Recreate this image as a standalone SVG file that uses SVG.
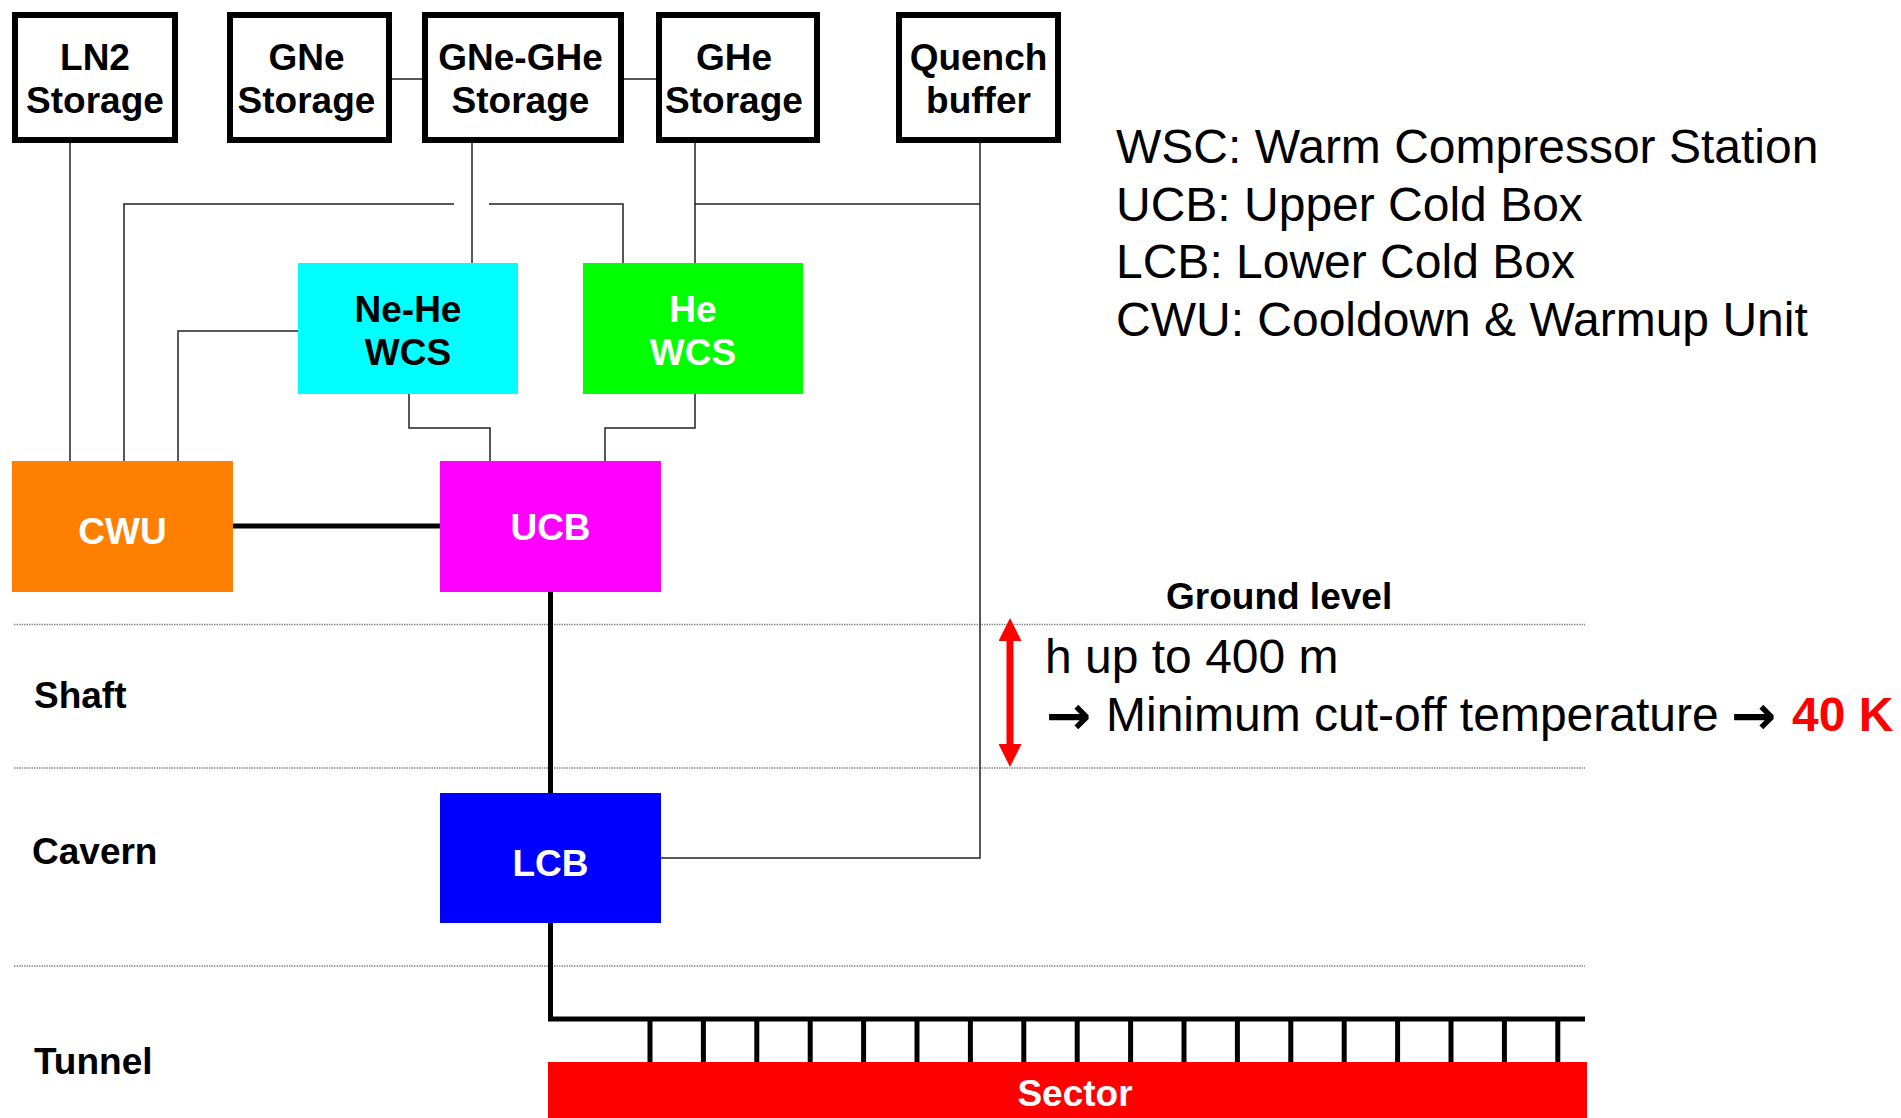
<svg xmlns="http://www.w3.org/2000/svg" width="1901" height="1118" viewBox="0 0 1901 1118">
<defs>
<style>
.store{fill:#fff;stroke:#000;stroke-width:6}
.bl{font-family:"Liberation Sans",Arial,sans-serif;font-weight:bold;font-size:37px;text-anchor:middle}
.lab{font-family:"Liberation Sans",Arial,sans-serif;font-weight:bold;font-size:37px}
.reg{font-family:"Liberation Sans",Arial,sans-serif;font-size:48px}
.arr{font-family:"DejaVu Sans",sans-serif;font-weight:bold;font-size:54px}
.thin{fill:none;stroke:#222;stroke-width:1.5}
.thick{fill:none;stroke:#000;stroke-width:5}
.lvl{fill:none;stroke:#888;stroke-width:1.5;stroke-dasharray:1.5 1}
.w{fill:#fff}
</style>
<marker id="rh" viewBox="0 0 23 23" refX="1" refY="11.5" markerUnits="userSpaceOnUse" markerWidth="23" markerHeight="23" orient="auto-start-reverse">
<path d="M0,0 L23,11.5 L0,23 Z" fill="#f00"/>
</marker>
</defs>
<rect width="1901" height="1118" fill="#fff"/>

<g id="levels">
<line class="lvl" x1="14" y1="624.5" x2="1585" y2="624.5"/>
<line class="lvl" x1="14" y1="768" x2="1585" y2="768"/>
<line class="lvl" x1="14" y1="966" x2="1585" y2="966"/>
<text class="lab" x="1166" y="609">Ground level</text>
<text class="lab" x="34" y="708">Shaft</text>
<text class="lab" x="32" y="864">Cavern</text>
<text class="lab" x="34" y="1074">Tunnel</text>
</g>

<g id="connectors">
<path class="thin" d="M392,79 H425 M621,79 H659"/>
<path class="thin" d="M70,143 V461"/>
<path class="thin" d="M472,143 V263"/>
<path class="thin" d="M695,143 V263"/>
<path class="thin" d="M980,143 V858 H661"/>
<path class="thin" d="M695,204 H980"/>
<path class="thin" d="M124,461 V204 H454"/>
<path class="thin" d="M489,204 H623 V263"/>
<path class="thin" d="M178,461 V331 H298"/>
<path class="thin" d="M409,394 V428 H490 V461"/>
<path class="thin" d="M695,394 V428 H605 V461"/>
<path class="thick" d="M233,526 H440"/>
<path class="thick" d="M550.5,592 V793"/>
<path class="thick" d="M550.5,923 V1019 H1585"/>
<path class="thick" stroke-width="4.5" d="M650,1019 V1062 M703.4,1019 V1062 M756.8,1019 V1062 M810.2,1019 V1062 M863.6,1019 V1062 M917,1019 V1062 M970.4,1019 V1062 M1023.8,1019 V1062 M1077.2,1019 V1062 M1130.6,1019 V1062 M1184,1019 V1062 M1237.4,1019 V1062 M1290.8,1019 V1062 M1344.2,1019 V1062 M1397.6,1019 V1062 M1451,1019 V1062 M1504.4,1019 V1062 M1557.8,1019 V1062"/>
</g>

<g id="ln2">
<rect class="store" x="15" y="15" width="160" height="125"/>
<text class="bl" x="95" y="70">LN2</text>
<text class="bl" x="95" y="113">Storage</text>
</g>
<g id="gne">
<rect class="store" x="230" y="15" width="159" height="125"/>
<text class="bl" x="306.5" y="70">GNe</text>
<text class="bl" x="306.5" y="113">Storage</text>
</g>
<g id="gnegHe">
<rect class="store" x="425" y="15" width="196" height="125"/>
<text class="bl" x="520.5" y="70">GNe-GHe</text>
<text class="bl" x="520.5" y="113">Storage</text>
</g>
<g id="ghe">
<rect class="store" x="659" y="15" width="158" height="125"/>
<text class="bl" x="734" y="70">GHe</text>
<text class="bl" x="734" y="113">Storage</text>
</g>
<g id="quench">
<rect class="store" x="899" y="15" width="159" height="125"/>
<text class="bl" x="978.5" y="70">Quench</text>
<text class="bl" x="978.5" y="113">buffer</text>
</g>

<g id="nehe-wcs">
<rect x="298" y="263" width="220" height="131" fill="#0ff"/>
<text class="bl" x="408" y="322">Ne-He</text>
<text class="bl" x="408" y="365">WCS</text>
</g>
<g id="he-wcs">
<rect x="583" y="263" width="220" height="131" fill="#0f0"/>
<text class="bl w" x="693" y="322">He</text>
<text class="bl w" x="693" y="365">WCS</text>
</g>
<g id="cwu">
<rect x="12" y="461" width="221" height="131" fill="#ff8000"/>
<text class="bl w" x="122.5" y="544">CWU</text>
</g>
<g id="ucb">
<rect x="440" y="461" width="221" height="131" fill="#f0f"/>
<text class="bl w" x="550.5" y="540">UCB</text>
</g>
<g id="lcb">
<rect x="440" y="793" width="221" height="130" fill="#00f"/>
<text class="bl w" x="550.5" y="876">LCB</text>
</g>
<g id="sector">
<rect x="548" y="1062" width="1039" height="56" fill="#f00"/>
<text class="bl w" x="1075" y="1106">Sector</text>
</g>

<g id="height">
<line x1="1010" y1="640" x2="1010" y2="745" stroke="#f00" stroke-width="7" marker-start="url(#rh)" marker-end="url(#rh)"/>
<text class="reg" x="1045" y="673">h up to 400 m</text>
<text class="arr" x="1046" y="734">→</text>
<text class="reg" x="1106" y="731">Minimum cut-off temperature</text>
<text class="arr" x="1731" y="734">→</text>
<text class="reg" x="1792" y="731" font-weight="bold" fill="#f00">40 K</text>
</g>

<g id="legend">
<text class="reg" x="1116" y="163">WSC: Warm Compressor Station</text>
<text class="reg" x="1116" y="221">UCB: Upper Cold Box</text>
<text class="reg" x="1116" y="278">LCB: Lower Cold Box</text>
<text class="reg" x="1116" y="336">CWU: Cooldown &amp; Warmup Unit</text>
</g>
</svg>
